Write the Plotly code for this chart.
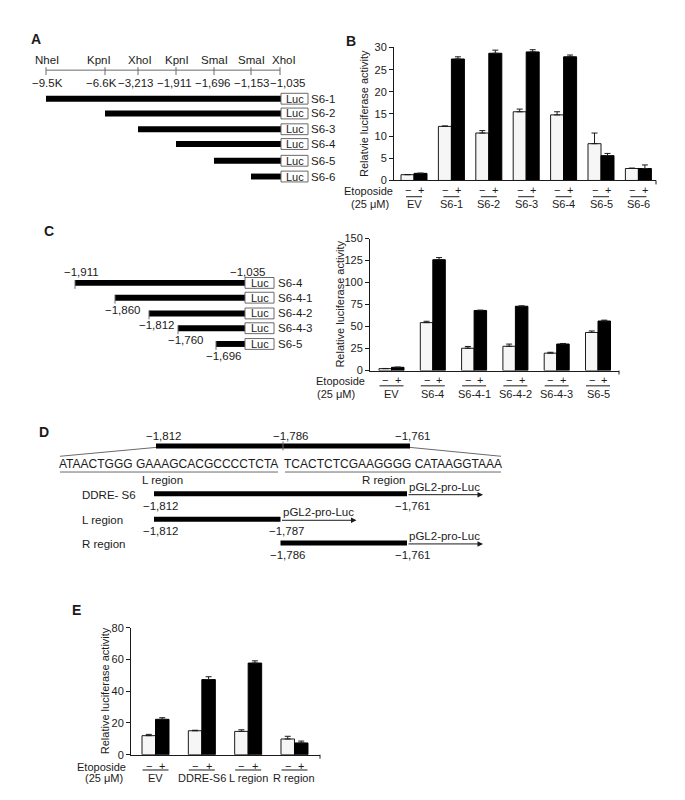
import plotly.graph_objects as go

# ---------------- data ----------------
# Panel A (restriction map + deletion constructs)
A_SITES = ["NheI", "KpnI", "XhoI", "KpnI", "SmaI", "SmaI", "XhoI"]
A_POSITIONS = ["−9.5K", "−6.6K", "−3,213", "−1,911", "−1,696", "−1,153", "−1,035"]
A_CONSTRUCTS = ["S6-1", "S6-2", "S6-3", "S6-4", "S6-5", "S6-6"]
A_START_SITE = [0, 1, 2, 3, 4, 5]

# Panel B
B_GROUPS = ["EV", "S6-1", "S6-2", "S6-3", "S6-4", "S6-5", "S6-6"]
B_MINUS = [1.3, 12.2, 10.7, 15.5, 14.8, 8.3, 2.7]
B_MINUS_ERR = [0.05, 0.1, 0.55, 0.6, 0.7, 2.4, 0.1]
B_PLUS = [1.6, 27.4, 28.7, 29.0, 27.9, 5.6, 2.7]
B_PLUS_ERR = [0.05, 0.5, 0.7, 0.5, 0.4, 0.5, 0.8]
B_TICKS = [0, 5, 10, 15, 20, 25, 30]

# Panel C (left schematic)
C_CONSTRUCTS = ["S6-4", "S6-4-1", "S6-4-2", "S6-4-3", "S6-5"]
C_STARTS = ["−1,911", "−1,860", "−1,812", "−1,760", "−1,696"]
C_END = "−1,035"

# Panel C (bar chart)
C_GROUPS = ["EV", "S6-4", "S6-4-1", "S6-4-2", "S6-4-3", "S6-5"]
C_MINUS = [2.2, 54.5, 25.4, 27.6, 19.8, 43.3]
C_MINUS_ERR = [0.2, 1.5, 2.0, 2.5, 1.0, 1.7]
C_PLUS = [3.7, 126.0, 68.3, 73.1, 30.2, 56.3]
C_PLUS_ERR = [0.2, 2.4, 0.4, 0.4, 0.6, 1.0]
C_TICKS = [0, 25, 50, 75, 100, 125, 150]

# Panel D
D_SEQ_L = "ATAACTGGG GAAAGCACGCCCCTCTA"
D_SEQ_R = "TCACTCTCGAAGGGG CATAAGGTAAA"
D_TOP = [-1812, -1786, -1761]
D_NAMES = ["DDRE- S6", "L region", "R region"]
D_START = [-1812, -1812, -1786]
D_END = [-1761, -1787, -1761]

# Panel E
E_GROUPS = ["EV", "DDRE-S6", "L region", "R region"]
E_MINUS = [12.0, 15.1, 14.7, 9.9]
E_MINUS_ERR = [0.8, 0.3, 1.0, 1.7]
E_PLUS = [22.3, 47.3, 57.7, 7.4]
E_PLUS_ERR = [1.0, 1.8, 1.4, 1.2]
E_TICKS = [0, 20, 40, 60, 80]

# ---------------- helpers ----------------
FONT = "Liberation Sans, Arial, Helvetica, sans-serif"
INK = "#1b1b1b"
GREY = "#6a6a6a"
W, H = 685, 800

fig = go.Figure()
annotations = []
shapes = []


def T(x, y, s, size=11, xa="center", ya="middle", xref="x4", yref="y4",
      bold=False, angle=0, color=INK):
    annotations.append(dict(
        x=x, y=y, xref=xref, yref=yref,
        text=("<b>%s</b>" % s) if bold else s,
        showarrow=False, xanchor=xa, yanchor=ya, textangle=angle,
        font=dict(family=FONT, size=size, color=color), borderpad=0))


def L(x0, y0, x1, y1, color=INK, width=1, xref="x4", yref="y4"):
    shapes.append(dict(type="line", x0=x0, y0=y0, x1=x1, y1=y1,
                       xref=xref, yref=yref,
                       line=dict(color=color, width=width)))


def Rect(x0, y0, x1, y1, fill=INK, line=INK, lw=1, xref="x4", yref="y4"):
    shapes.append(dict(type="rect", x0=x0, y0=y0, x1=x1, y1=y1,
                       xref=xref, yref=yref, fillcolor=fill,
                       line=dict(color=line, width=lw)))


def Arrow(x_tail, x_tip, y):
    annotations.append(dict(
        x=x_tip, y=y, ax=x_tail, ay=y, xref="x4", yref="y4",
        axref="x4", ayref="y4", text="", showarrow=True,
        arrowhead=2, arrowsize=1.1, arrowwidth=1, arrowcolor=INK))


# overlay pixel axis for schematic drawing
fig.add_trace(go.Scatter(x=[], y=[], xaxis="x4", yaxis="y4",
                         showlegend=False, hoverinfo="skip"))


def bar_panel(n, groups, minus, minus_err, plus, plus_err, px_left,
              px_right, py_bottom, py_top, center0, spacing, bar_w,
              yrange, yticks, ylabel, ylabel_x, etop_right, conc_center,
              etop_y, line_y, name_y, line_half):
    xa = "x" if n == 1 else "x%d" % n
    ya = "y" if n == 1 else "y%d" % n
    idx = list(range(len(groups)))
    off = bar_w / 2.0 / spacing
    wd = bar_w / spacing
    fig.add_trace(go.Bar(
        x=[i - off for i in idx], y=minus, width=wd, xaxis=xa, yaxis=ya,
        marker=dict(color="#f6f6f6", line=dict(color=INK, width=1)),
        error_y=dict(type="data", array=minus_err,
                     arrayminus=[0] * len(idx), symmetric=False,
                     color=INK, thickness=1, width=3),
        showlegend=False, hoverinfo="skip"))
    fig.add_trace(go.Bar(
        x=[i + off for i in idx], y=plus, width=wd, xaxis=xa, yaxis=ya,
        marker=dict(color="#000000", line=dict(color="#000000", width=1)),
        error_y=dict(type="data", array=plus_err,
                     arrayminus=[0] * len(idx), symmetric=False,
                     color=INK, thickness=1, width=3),
        showlegend=False, hoverinfo="skip"))
    xr = [(px_left - center0) / spacing, (px_right - center0) / spacing]
    kx = "xaxis" if n == 1 else "xaxis%d" % n
    ky = "yaxis" if n == 1 else "yaxis%d" % n
    fig.update_layout(**{
        kx: dict(domain=[px_left / W, px_right / W], range=xr, anchor=ya,
                 showline=True, linecolor=INK, linewidth=1, ticks="",
                 showticklabels=False, showgrid=False, zeroline=False,
                 fixedrange=True),
        ky: dict(domain=[1 - py_bottom / H, 1 - py_top / H], range=yrange,
                 anchor=xa, showline=True, linecolor=INK, linewidth=1,
                 ticks="outside", ticklen=4, tickwidth=1, tickcolor=INK,
                 tickvals=yticks, showgrid=False, zeroline=False,
                 tickfont=dict(family=FONT, size=11, color=INK),
                 fixedrange=True),
    })
    # right-end tick on x axis
    L(px_right, py_bottom, px_right, py_bottom + 4)
    # y label
    T(ylabel_x, (py_bottom + py_top) / 2.0, ylabel, size=11, angle=-90)
    # treatment labels
    T(etop_right, etop_y, "Etoposide", size=11, xa="right")
    T(conc_center, name_y, "(25 μM)", size=11)
    for i, g in zip(idx, groups):
        T(i - off, etop_y - 1, "−", size=11, xref=xa)
        T(i + off, etop_y - 1, "+", size=11, xref=xa)
        c = center0 + i * spacing
        L(c - line_half, line_y, c + line_half, line_y)
        T(i, name_y, g, size=11, xref=xa)


# ---------------- Panel B ----------------
bar_panel(1, B_GROUPS, B_MINUS, B_MINUS_ERR, B_PLUS, B_PLUS_ERR,
          386, 648, 169, 34, 406, 37.4, 13, [0, 30], B_TICKS,
          "Relatvie luciferase activity", 356, 386, 362, 180, 185.5, 193, 8)

# ---------------- Panel C bars ----------------
bar_panel(2, C_GROUPS, C_MINUS, C_MINUS_ERR, C_PLUS, C_PLUS_ERR,
          362, 611, 362, 228, 383.5, 41.3, 12.5, [0, 150], C_TICKS,
          "Relative luciferase activity", 332, 358, 328, 373, 377.5, 386, 12)

# ---------------- Panel E bars ----------------
bar_panel(3, E_GROUPS, E_MINUS, E_MINUS_ERR, E_PLUS, E_PLUS_ERR,
          123, 312, 752, 623, 147.5, 46.33, 13.5, [0, 80], E_TICKS,
          "Relative luciferase activity", 97, 119, 96, 764.5, 767.5, 776, 13)

# ---------------- Panel letters ----------------
T(28, 25, "A", size=14, bold=True)
T(343, 27, "B", size=14, bold=True)
T(41, 220, "C", size=14, bold=True)
T(36, 424, "D", size=14, bold=True)
T(68, 605, "E", size=14, bold=True)

# ---------------- Panel A schematic ----------------
A_TICK_PX = [38, 97, 130, 168, 206, 243, 272]
A_SITE_PX = [39, 91, 132, 169, 206, 243, 276]
A_POS_PX = [39, 93, 128, 166, 205, 244, 280]
A_ROW_Y = [86, 101, 117, 132, 149, 165]
L(A_TICK_PX[0], 57, A_TICK_PX[-1], 57, color=GREY)
for tx, sx, pxl, site, pos in zip(A_TICK_PX, A_SITE_PX, A_POS_PX,
                                  A_SITES, A_POSITIONS):
    L(tx, 54, tx, 62, color=GREY)
    T(sx, 47, site, size=11.5)
    T(pxl, 70, pos, size=11.5)
LUC_X0, LUC_X1 = 273, 300
for name, s, y in zip(A_CONSTRUCTS, A_START_SITE, A_ROW_Y):
    Rect(A_TICK_PX[s], y - 3, LUC_X0, y + 3, fill="#000", line="#000", lw=0)
    Rect(LUC_X0, y - 5.5, LUC_X1, y + 5.5, fill="#fff", line=GREY, lw=1)
    T((LUC_X0 + LUC_X1) / 2, y, "Luc", size=11)
    T(LUC_X1 + 2, y, name, size=11.5, xa="left")

# ---------------- Panel C schematic ----------------
C_START_PX = [67, 107, 141, 170, 208]
C_ROW_Y = [273, 288, 304, 319, 335]
C_BAR_END, C_LUC_END = 237, 266
for k, (name, lab, x0, y) in enumerate(zip(C_CONSTRUCTS, C_STARTS,
                                           C_START_PX, C_ROW_Y)):
    Rect(x0, y - 3, C_BAR_END, y + 3, fill="#000", line="#000", lw=0)
    L(x0, y - 3, x0, y + 6, color=GREY)
    Rect(C_BAR_END, y - 5.5, C_LUC_END, y + 5.5, fill="#fff", line=GREY, lw=1)
    T((C_BAR_END + C_LUC_END) / 2, y, "Luc", size=11)
    T(C_LUC_END + 3, y, name, size=11.5, xa="left")
    if k == 0:
        T(x0 + 6, y - 11, lab, size=11.5)
    else:
        T(x0 + 8, y + 12, lab, size=11.5)
T(C_BAR_END + 3, C_ROW_Y[0] - 11, C_END, size=11.5)

# ---------------- Panel D schematic ----------------
TOP0, TOPK = 148, 254 / 52.0


def top_px(nt):
    return TOP0 + (nt - D_TOP[0]) * TOPK


top_end = top_px(D_TOP[-1] + 1)
Rect(top_px(D_TOP[0]), 436, top_end, 441, fill="#000", line="#000", lw=0)
L(top_px(D_TOP[1]), 434, top_px(D_TOP[1]), 443, color=GREY)
for nt in D_TOP:
    T(top_px(nt) + 8, 428, "−{:,}".format(-nt), size=11.5)
L(top_px(D_TOP[0]), 440, 52, 449, color=GREY)
L(top_end, 440, 493, 449, color=GREY)
T(160, 457, D_SEQ_L, size=12)
T(385, 457, D_SEQ_R, size=12)
L(52, 465, 270, 465, color=GREY)
L(277, 465, 493, 465, color=GREY)
T(154, 473, "L region", size=11.5)
T(375, 473, "R region", size=11.5)

ROW0, ROWK = 146, 253 / 52.0


def row_px(nt):
    return ROW0 + (nt - D_START[0]) * ROWK


D_ROW_Y = [487, 513, 537]
for name, s, e, y in zip(D_NAMES, D_START, D_END, D_ROW_Y):
    x0, x1 = row_px(s), row_px(e + 1)
    T(73, y + 1, name, size=11.5, xa="left")
    Rect(x0, y - 2.5, x1, y + 2.5, fill="#000", line="#000", lw=0)
    Arrow(x1, x1 + 76, y + 1)
    T(x1 + 1, y - 7, "pGL2-pro-Luc", size=11.5, xa="left")
    T(x0 + 7, y + 12, "−{:,}".format(-s), size=11.5)
    T(x1 + 6, y + 12, "−{:,}".format(-e), size=11.5)

fig.update_layout(
    width=W, height=H,
    margin=dict(l=0, r=0, t=0, b=0),
    paper_bgcolor="white", plot_bgcolor="rgba(0,0,0,0)",
    barmode="overlay", showlegend=False,
    xaxis4=dict(domain=[0, 1], range=[0, W], visible=False, fixedrange=True,
                anchor="y4"),
    yaxis4=dict(domain=[0, 1], range=[H, 0], visible=False, fixedrange=True,
                anchor="x4"),
    annotations=annotations, shapes=shapes,
    font=dict(family=FONT, color=INK),
)

fig.write_html("out.html")
